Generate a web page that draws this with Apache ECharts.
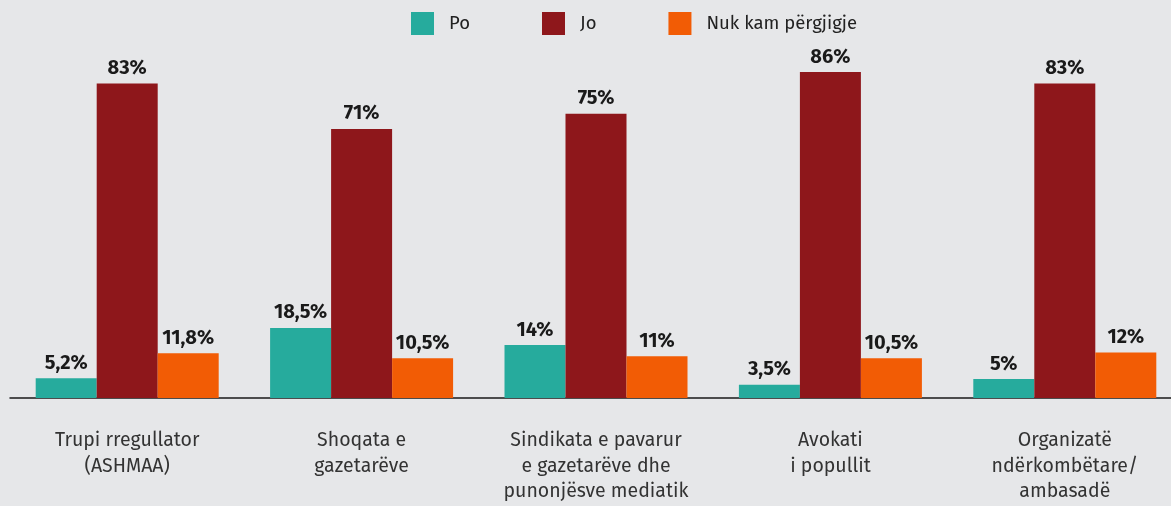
<!DOCTYPE html>
<html>
<head>
<meta charset="utf-8">
<script src="https://cdn.jsdelivr.net/npm/echarts@6/dist/echarts.min.js"></script>
<style>
  html, body { margin: 0; padding: 0; background: #e6e7e9; overflow: hidden; }
  #chart { width: 1183px; height: 506px; }
</style>
</head>
<body>
<div id="chart"></div>
<script>
// kategoritë
var categories = [
  'Trupi rregullator\n(ASHMAA)',
  'Shoqata e\ngazetarëve',
  'Sindikata e pavarur\ne gazetarëve dhe\npunonjësve mediatik',
  'Avokati\ni popullit',
  'Organizatë\nndërkombëtare/\nambasadë'
];
// vlerat (%)
var po = [5.2, 18.5, 14, 3.5, 5];
var jo = [83, 71, 75, 86, 83];
var nuk = [11.8, 10.5, 11, 10.5, 12];

var fontFam = '"Fira Sans", "Noto Sans", "Open Sans", sans-serif';

function fmt(p) {
  return String(p.value).replace('.', ',') + '%';
}

var labelOpt = {
  show: true,
  position: 'top',
  distance: 5,
  formatter: fmt,
  fontFamily: fontFam,
  fontWeight: 'bold',
  fontSize: 20,
  color: '#1a1a1a'
};

var myChart = echarts.init(document.getElementById('chart'));
myChart.setOption({
  backgroundColor: '#e6e7e9',
  animation: false,
  legend: {
    left: 411,
    top: 12,
    padding: 0,
    itemWidth: 23,
    itemHeight: 23,
    itemGap: 72,
    icon: 'rect',
    textStyle: {
      fontFamily: fontFam,
      fontSize: 18.5,
      color: '#222',
      padding: [0, 0, 0, 10]
    },
    data: ['Po', 'Jo', 'Nuk kam përgjigje']
  },
  grid: {
    left: 10,
    width: 1172,
    top: 19,
    bottom: 108
  },
  xAxis: {
    type: 'category',
    data: categories,
    axisTick: { show: false },
    axisLine: { lineStyle: { color: '#1a1a1a', width: 1.5 } },
    axisLabel: {
      margin: 30,
      fontFamily: fontFam,
      fontSize: 19.5,
      lineHeight: 25.5,
      color: '#333',
      interval: 0
    }
  },
  yAxis: {
    type: 'value',
    min: 0,
    max: 100,
    show: false
  },
  series: [
    {
      name: 'Po',
      type: 'bar',
      data: po,
      barWidth: 61,
      barGap: '0%',
      itemStyle: { color: '#26ab9d' },
      label: labelOpt
    },
    {
      name: 'Jo',
      type: 'bar',
      data: jo,
      barWidth: 61,
      barGap: '0%',
      itemStyle: { color: '#8e171b' },
      label: labelOpt
    },
    {
      name: 'Nuk kam përgjigje',
      type: 'bar',
      data: nuk,
      barWidth: 61,
      barGap: '0%',
      itemStyle: { color: '#f25c05' },
      label: labelOpt
    }
  ]
});
</script>
</body>
</html>
